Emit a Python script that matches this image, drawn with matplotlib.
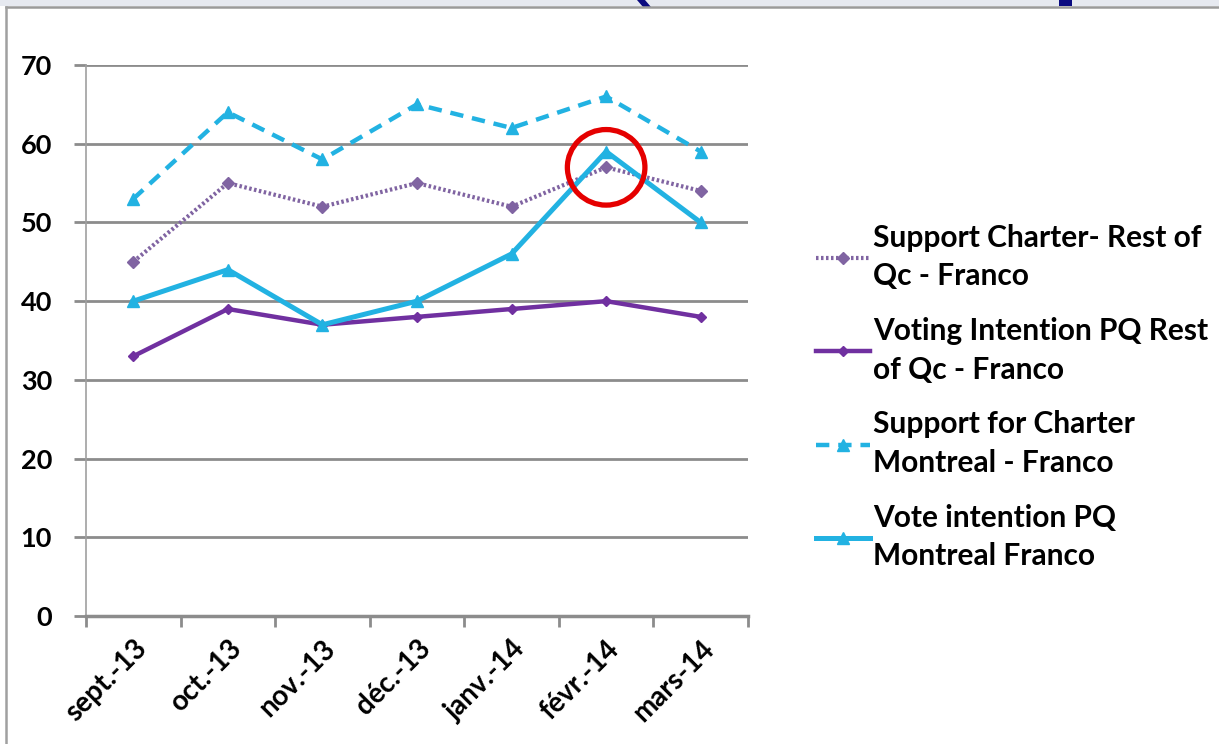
import matplotlib
matplotlib.use("Agg")
import matplotlib.pyplot as plt
from matplotlib.patches import Rectangle, Polygon, Ellipse

plt.rcParams['font.family'] = ['Lato', 'DejaVu Sans']

months = ['sept.-13', 'oct.-13', 'nov.-13', 'déc.-13', 'janv.-14', 'févr.-14', 'mars-14']
support_rest = [45, 55, 52, 55, 52, 57, 54]
vote_rest = [33, 39, 37, 38, 39, 40, 38]
support_mtl = [53, 64, 58, 65, 62, 66, 59]
vote_mtl = [40, 44, 37, 40, 46, 59, 50]

labels = ['Support Charter- Rest of\nQc - Franco',
          'Voting Intention PQ Rest\nof Qc - Franco',
          'Support for Charter\nMontreal - Franco',
          'Vote intention PQ\nMontreal Franco']

W, H = 1219, 744
purple_light = '#8064A2'
purple = '#7030A0'
cyan = '#22B2E2'


def fx(px):
    return px / W


def fy(py):
    return 1 - py / H


fig = plt.figure(figsize=(W / 100, H / 100), dpi=100)
fig.patch.set_facecolor('white')

# slide strip at the top and the frame around the chart
fig.patches.append(Rectangle((0, fy(6)), 1, 6 / H, transform=fig.transFigure,
                             facecolor='#E6E9F0', edgecolor='none', zorder=0))
fig.patches.append(Polygon([(fx(637), 1), (fx(645), 1), (fx(651), fy(7)), (fx(643), fy(7))],
                           closed=True, transform=fig.transFigure,
                           facecolor='#0A0A80', edgecolor='none', zorder=1))
fig.patches.append(Rectangle((fx(1059), fy(6)), 13 / W, 6 / H, transform=fig.transFigure,
                             facecolor='#0A0A80', edgecolor='none', zorder=1))
fig.lines.append(plt.Line2D([fx(6), 1], [fy(6.5), fy(6.5)], transform=fig.transFigure,
                            color='#9A9A9A', lw=1.8))
fig.lines.append(plt.Line2D([fx(6), fx(6)], [0, fy(6.5)], transform=fig.transFigure,
                            color='#A0A0A0', lw=1.8))

ax = fig.add_axes([fx(86), fy(616), fx(748) - fx(86), fy(65) - fy(616)])
x = [i + 0.5 for i in range(len(months))]

ax.plot(x, support_rest, color=purple_light, lw=3, ls=(0, (0.6, 0.6)),
        marker='D', ms=6, label=labels[0])
ax.plot(x, vote_rest, color=purple, lw=3.2, marker='D', ms=5, label=labels[1])
ax.plot(x, support_mtl, color=cyan, lw=3.2, ls=(0, (3, 2)),
        marker='^', ms=8, label=labels[2])
ax.plot(x, vote_mtl, color=cyan, lw=3.6, marker='^', ms=8, label=labels[3])

ax.set_xlim(0, 7)
ax.set_ylim(0, 70)
ax.set_yticks(range(0, 71, 10))
ax.yaxis.grid(True, color='#8C8C8C', lw=2)
ax.set_axisbelow(True)
ax.set_xticks(range(8))
ax.set_xticklabels([])
ax.set_xticks(x, minor=True)
ax.set_xticklabels(months, minor=True, rotation=45, ha='right', rotation_mode='anchor',
                   fontsize=20)
ax.tick_params(axis='x', which='minor', length=0, pad=14)
ax.tick_params(axis='x', which='major', length=8, width=2, color='#8C8C8C')
ax.tick_params(axis='y', length=8.5, width=2, color='#8C8C8C', labelsize=19.5, pad=16)
for lab in ax.get_xticklabels(minor=True) + ax.get_yticklabels():
    lab.set_fontweight('bold')
for s in ['top', 'right']:
    ax.spines[s].set_visible(False)
ax.spines['left'].set_color('#A0A0A0')
ax.spines['left'].set_linewidth(1.2)
ax.spines['bottom'].set_color('#8C8C8C')
ax.spines['bottom'].set_linewidth(2.5)

# red highlight circle around the févr.-14 peak
ax.add_patch(Ellipse((5.5, 57.0), 0.82, 9.6, fill=False, edgecolor='#E50000', lw=3.8,
                     clip_on=False, zorder=5))

leg = ax.legend(loc='upper left', bbox_to_anchor=(fx(816), fy(224)),
                bbox_transform=fig.transFigure, frameon=False, fontsize=21.5,
                handlelength=1.8, handletextpad=0.1, labelspacing=0.9, borderpad=0,
                borderaxespad=0)
for t in leg.get_texts():
    t.set_linespacing(1.45)
    t.set_fontweight('bold')

fig.savefig('out.png', dpi=100, facecolor='white')
